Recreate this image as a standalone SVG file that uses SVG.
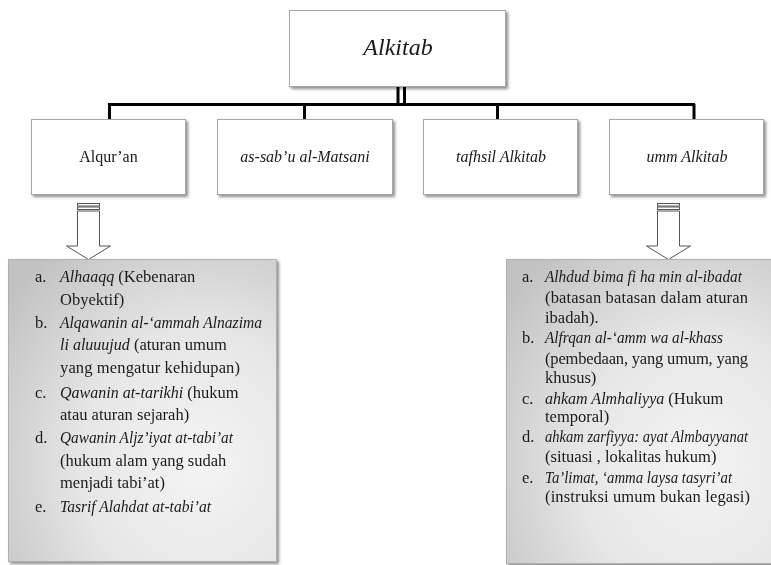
<svg xmlns="http://www.w3.org/2000/svg" width="771" height="565" viewBox="0 0 771 565">
  <defs>
    <filter id="shadow" x="-5%" y="-5%" width="115%" height="120%">
      <feGaussianBlur in="SourceAlpha" stdDeviation="1.5"/>
      <feOffset dx="1.5" dy="2" result="b"/>
      <feComponentTransfer><feFuncA type="linear" slope="0.45"/></feComponentTransfer>
      <feMerge><feMergeNode/><feMergeNode in="SourceGraphic"/></feMerge>
    </filter>
    <radialGradient id="panel" cx="0.72" cy="0.68" r="0.9" fx="0.72" fy="0.68">
      <stop offset="0" stop-color="#f4f4f4"/>
      <stop offset="0.5" stop-color="#e6e6e6"/>
      <stop offset="1" stop-color="#c2c2c2"/>
    </radialGradient>
  </defs>
  <style>
    .box { fill: #ffffff; stroke: #a6a6a6; stroke-width: 1; }
    .panel { fill: url(#panel); stroke: #b0b0b0; stroke-width: 1; }
    .line { stroke: #000000; stroke-width: 3; fill: none; }
    .arrow { fill: #ffffff; stroke: #555555; stroke-width: 1; }
    text { font-family: "Liberation Serif", "DejaVu Serif", serif; fill: #1a1a1a; }
    .title { font-size: 24px; font-style: italic; text-anchor: middle; }
    .label { font-size: 16px; text-anchor: middle; }
    .it { font-style: italic; font-size: 16px; }
    .item { font-size: 16.5px; }
  </style>

  <!-- connectors -->
  <g id="connectors">
    <line class="line" x1="398" y1="87" x2="398" y2="104" stroke-width="2.5"/>
    <line class="line" x1="404.5" y1="87" x2="404.5" y2="104" stroke-width="2.5"/>
    <line class="line" x1="108" y1="104.5" x2="695" y2="104.5"/>
    <line class="line" x1="109.5" y1="104" x2="109.5" y2="119"/>
    <line class="line" x1="304.5" y1="104" x2="304.5" y2="119"/>
    <line class="line" x1="497.5" y1="104" x2="497.5" y2="119"/>
    <line class="line" x1="694" y1="104" x2="694" y2="119"/>
    <!-- block arrows into the lists -->
    <g id="arrow-left">
      <rect class="arrow" x="77.5" y="203.5" width="22" height="2.5"/>
      <rect class="arrow" x="77.5" y="207" width="22" height="2.5"/>
      <path class="arrow" d="M77.5,211 H99.5 V246 H110.5 L88.5,259.5 L66.5,246 H77.5 Z"/>
    </g>
    <g id="arrow-right">
      <rect class="arrow" x="657.5" y="203.5" width="22" height="2.5"/>
      <rect class="arrow" x="657.5" y="207" width="22" height="2.5"/>
      <path class="arrow" d="M657.5,211 H679.5 V246 H690.5 L668.5,259.5 L646.5,246 H657.5 Z"/>
    </g>
  </g>

  <g id="alkitab" filter="url(#shadow)">
    <rect class="box" x="289.5" y="10.5" width="216" height="76"/>
    <text class="title" x="398" y="55">Alkitab</text>
  </g>

  <g id="alquran" filter="url(#shadow)">
    <rect class="box" x="31.5" y="119.5" width="154" height="75"/>
    <text class="label" x="108.5" y="162">Alqur’an</text>
  </g>

  <g id="as-sabu" filter="url(#shadow)">
    <rect class="box" x="217.5" y="119.5" width="175" height="75"/>
    <text class="label" x="305" y="162" font-style="italic">as-sab’u al-Matsani</text>
  </g>

  <g id="tafhsil" filter="url(#shadow)">
    <rect class="box" x="423.5" y="119.5" width="154" height="75"/>
    <text class="label" x="501" y="162" font-style="italic">tafhsil Alkitab</text>
  </g>

  <g id="umm-alkitab" filter="url(#shadow)">
    <rect class="box" x="609.5" y="119.5" width="154" height="75"/>
    <text class="label" x="687" y="162" font-style="italic">umm Alkitab</text>
  </g>

  <g id="list-left" filter="url(#shadow)">
    <rect class="panel" x="8.5" y="259.5" width="268" height="302"/>
    <g class="item">
      <text x="35" y="282">a.</text>
      <text x="60" y="282"><tspan class="it">Alhaaqq</tspan> (Kebenaran</text>
      <text x="60" y="305">Obyektif)</text>
      <text x="35" y="328">b.</text>
      <text x="60" y="328" class="it" textLength="202" lengthAdjust="spacingAndGlyphs">Alqawanin al-‘ammah Alnazima</text>
      <text x="60" y="350"><tspan class="it">li aluuujud</tspan> (aturan umum</text>
      <text x="60" y="373" textLength="180" lengthAdjust="spacing">yang mengatur  kehidupan)</text>
      <text x="35" y="398">c.</text>
      <text x="60" y="398"><tspan class="it">Qawanin at-tarikhi</tspan> (hukum</text>
      <text x="60" y="420">atau aturan  sejarah)</text>
      <text x="35" y="443">d.</text>
      <text x="60" y="443" class="it" textLength="173" lengthAdjust="spacingAndGlyphs">Qawanin Aljz’iyat at-tabi’at</text>
      <text x="60" y="466">(hukum alam yang sudah</text>
      <text x="60" y="488">menjadi tabi’at)</text>
      <text x="35" y="512">e.</text>
      <text x="60" y="512" class="it" textLength="151" lengthAdjust="spacingAndGlyphs">Tasrif Alahdat at-tabi’at</text>
    </g>
  </g>

  <g id="list-right" filter="url(#shadow)">
    <rect class="panel" x="506.5" y="259.5" width="268" height="304"/>
    <g class="item">
      <text x="522" y="282">a.</text>
      <text x="545" y="282" class="it" textLength="197" lengthAdjust="spacingAndGlyphs">Alhdud bima fi ha min al-ibadat</text>
      <text x="545" y="303" textLength="203" lengthAdjust="spacing">(batasan batasan dalam aturan</text>
      <text x="545" y="323">ibadah).</text>
      <text x="522" y="343">b.</text>
      <text x="545" y="343" class="it" textLength="178" lengthAdjust="spacingAndGlyphs">Alfrqan al-‘amm wa al-khass</text>
      <text x="545" y="364" textLength="203" lengthAdjust="spacing">(pembedaan, yang umum,  yang</text>
      <text x="545" y="383">khusus)</text>
      <text x="522" y="404">c.</text>
      <text x="545" y="404"><tspan class="it">ahkam Almhaliyya</tspan> (Hukum</text>
      <text x="545" y="422">temporal)</text>
      <text x="522" y="442">d.</text>
      <text x="545" y="442" class="it" textLength="203" lengthAdjust="spacingAndGlyphs">ahkam zarfiyya: ayat Almbayyanat</text>
      <text x="545" y="462">(situasi , lokalitas hukum)</text>
      <text x="522" y="483">e.</text>
      <text x="545" y="483" class="it" textLength="187" lengthAdjust="spacingAndGlyphs">Ta’limat, ‘amma laysa tasyri’at</text>
      <text x="545" y="502" textLength="205" lengthAdjust="spacing">(instruksi umum  bukan legasi)</text>
    </g>
  </g>
</svg>
